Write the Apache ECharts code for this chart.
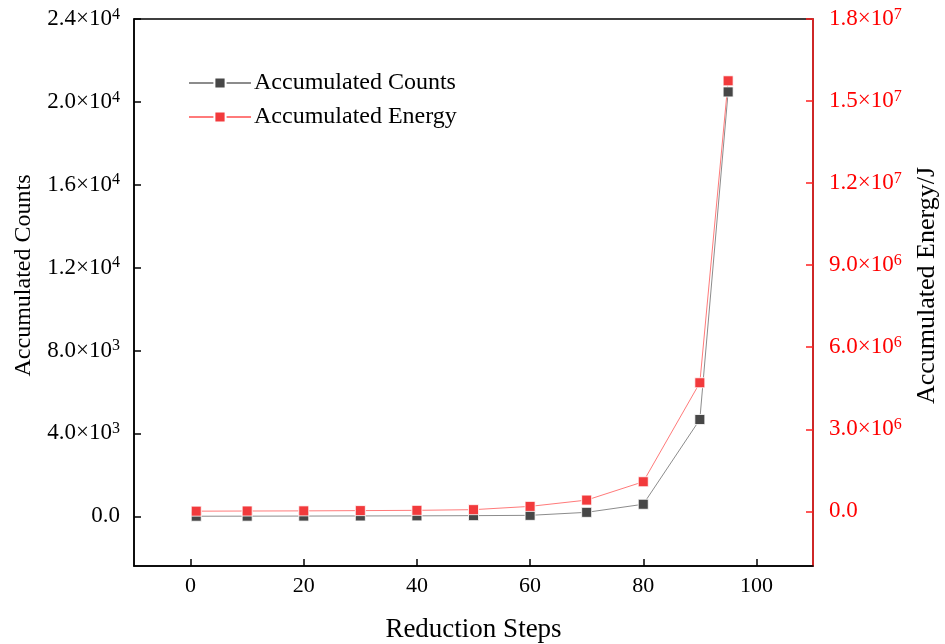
<!DOCTYPE html>
<html><head><meta charset="utf-8">
<script src="https://cdn.jsdelivr.net/npm/echarts@6/dist/echarts.min.js"></script>
<style>html,body{margin:0;padding:0;background:#fff}#c{width:945px;height:644px}</style>
</head><body><div id="c"></div>
<script>
var steps = [1, 10, 20, 30, 40, 50, 60, 70, 80, 90, 95];
var counts = [2, 5, 10, 15, 20, 30, 45, 190, 580, 4670, 20480];
var energy = [5000, 10000, 15000, 25000, 35000, 60000, 180000, 410000, 1080000, 4700000, 15740000];
var xTicks = [0, 20, 40, 60, 80, 100];
var leftTicks = [0, 4000, 8000, 12000, 16000, 20000, 24000];
var rightTicks = [0, 3000000, 6000000, 9000000, 12000000, 15000000, 18000000];

var FF = '"Liberation Serif","Times New Roman",serif';
function sci(v){
  if (v === 0) return '{m|0.0}';
  var e = Math.floor(Math.log10(Math.abs(v)) + 1e-9);
  var m = v / Math.pow(10, e);
  return '{m|' + m.toFixed(1) + '×10}{s|' + e + '}';
}
function rich(color){
  return {
    m: {fontFamily: FF, fontSize: 23, color: color},
    s: {fontFamily: FF, fontSize: 16, color: color, verticalAlign: 'top', padding: [0,0,9,0]}
  };
}
var chart = echarts.init(document.getElementById('c'));
chart.setOption({
  backgroundColor: '#fff',
  animation: false,
  grid: {left: 134, right: 132, top: 19, bottom: 78, show: true, borderColor: '#000', borderWidth: 1.5, outerBoundsMode: 'none', containLabel: false},
  legend: {
    left: 183, top: 66, orient: 'vertical', itemWidth: 62, itemHeight: 14, itemGap: 10,
    textStyle: {fontFamily: FF, fontSize: 24, color: '#000', padding: [0,0,0,-2]},
    data: ['Accumulated Counts', 'Accumulated Energy']
  },
  xAxis: {
    type: 'value', min: -10, max: 110,
    name: 'Reduction Steps', nameLocation: 'middle', nameGap: 50,
    nameTextStyle: {fontFamily: FF, fontSize: 27, color: '#000'},
    axisLine: {onZero: false, lineStyle: {color: '#000', width: 1.5}},
    axisTick: {inside: true, length: 7, lineStyle: {color: '#000', width: 1.5}, customValues: xTicks},
    axisLabel: {fontFamily: FF, fontSize: 22, color: '#000', margin: 9, customValues: xTicks},
    splitLine: {show: false}
  },
  yAxis: [{
    type: 'value', min: -2400, max: 24000, position: 'left',
    name: 'Accumulated Counts', nameLocation: 'middle', nameGap: 98, nameRotate: 90,
    nameTextStyle: {fontFamily: FF, fontSize: 24, color: '#000', padding: [0,0,0,34]},
    axisLine: {show: true, onZero: false, lineStyle: {color: '#000', width: 1.5}},
    axisTick: {show: true, inside: true, length: 7, lineStyle: {color: '#000', width: 1.5}, customValues: leftTicks},
    axisLabel: {margin: 14, formatter: sci, rich: rich('#000'), customValues: leftTicks},
    splitLine: {show: false}
  }, {
    type: 'value', min: -2000000, max: 18000000, position: 'right',
    name: 'Accumulated Energy/J', nameLocation: 'middle', nameGap: 101, nameRotate: 90,
    nameTextStyle: {fontFamily: FF, fontSize: 26, color: '#000', padding: [0,0,0,14]},
    axisLine: {show: true, onZero: false, lineStyle: {color: '#ff2020', width: 1.5}},
    axisTick: {show: true, inside: true, length: 7, lineStyle: {color: '#ff2020', width: 1.5}, customValues: rightTicks},
    axisLabel: {margin: 16, formatter: sci, rich: rich('#ff0000'), customValues: rightTicks},
    splitLine: {show: false}
  }],
  series: [{
    name: 'Accumulated Counts', type: 'line', yAxisIndex: 0,
    data: steps.map(function(s, i){ return [s, counts[i]]; }),
    symbol: 'rect', symbolSize: 10,
    itemStyle: {color: '#474747', borderColor: '#fff', borderWidth: 0.8},
    lineStyle: {color: '#8c8c8c', width: 1}
  }, {
    name: 'Accumulated Energy', type: 'line', yAxisIndex: 1,
    data: steps.map(function(s, i){ return [s, energy[i]]; }),
    symbol: 'rect', symbolSize: 10,
    itemStyle: {color: '#f23a3c', borderColor: '#fff', borderWidth: 0.8},
    lineStyle: {color: '#ff7a7a', width: 1}
  }]
});
</script></body></html>
